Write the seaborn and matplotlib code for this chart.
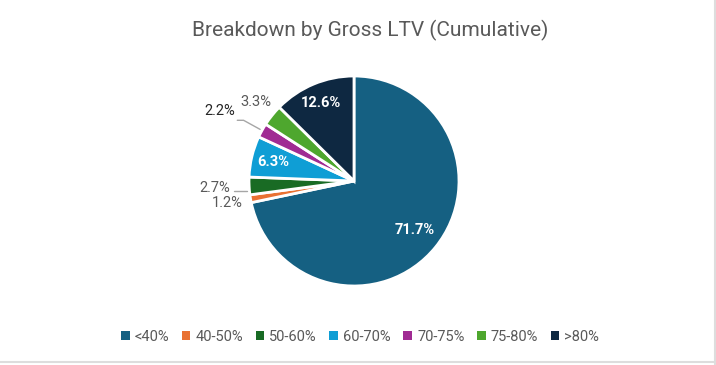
import matplotlib
matplotlib.use("Agg")
import matplotlib.pyplot as plt
import seaborn as sns
import numpy as np
from matplotlib.patches import Patch
from matplotlib.lines import Line2D

sns.set_style("white")
plt.rcParams['font.family'] = ['Roboto', 'DejaVu Sans']

# data
categories = ['<40%', '40-50%', '50-60%', '60-70%', '70-75%', '75-80%', '>80%']
shares = [71.7, 1.2, 2.7, 6.3, 2.2, 3.3, 12.6]
colors = sns.color_palette(['#156082', '#E97132', '#196B24', '#0F9ED5',
                            '#A02B93', '#4EA72E', '#0E2841'])

# label styling (distance from centre, inside/outside)
label_r = [0.74, 1.22, 1.33, 0.79, 1.46, 1.2, 0.81]
inside = [True, False, False, True, False, False, True]
leader = [False, False, True, False, True, False, False]

W, H = 716, 365
fig = plt.figure(figsize=(W / 100, H / 100), dpi=100)
cx, cy, R = 354, 181, 105
ax = fig.add_axes([(cx - R) / W, (H - cy - R) / H, 2 * R / W, 2 * R / H])

wedges, _ = ax.pie(shares, colors=colors, startangle=90, counterclock=False,
                   radius=1.0, wedgeprops=dict(edgecolor='white', linewidth=2))
ax.set_xlim(-1, 1)
ax.set_ylim(-1, 1)
ax.axis('off')

for w, val, r, ins, ld in zip(wedges, shares, label_r, inside, leader):
    ang = np.deg2rad((w.theta1 + w.theta2) / 2)
    x, y = r * np.cos(ang), r * np.sin(ang)
    if ins:
        ax.text(x, y, f"{val:.1f}%", ha='center', va='center', color='white',
                fontsize=10.5, fontweight='bold')
    else:
        col = '#262626' if ld and val < 2.5 else '#595959'
        ax.text(x, y - (0.04 if ld and val < 2.5 else 0), f"{val:.1f}%",
                ha='center', va='center', color=col, fontsize=10.5, clip_on=False)
    if ld:
        x0, y0 = 1.02 * np.cos(ang), 1.02 * np.sin(ang)
        if val < 2.5:
            x1, y1 = 1.2 * np.cos(ang), 1.2 * np.sin(ang)
            ax.plot([x0, x1, x1 - 0.06], [y0, y1, y1], color='#A6A6A6',
                    lw=1, clip_on=False)
        else:
            ax.plot([x0, x0 - 0.12], [y0 - 0.05, y0 - 0.05], color='#A6A6A6',
                    lw=1, clip_on=False)

fig.text(370 / W, 1 - 30 / H, 'Breakdown by Gross LTV (Cumulative)',
         ha='center', va='center', fontsize=15, color='#595959')

handles = [Patch(facecolor=c, edgecolor='none') for c in colors]
fig.legend(handles, categories, loc='center', bbox_to_anchor=(360 / W, 1 - 337 / H),
           ncol=7, frameon=False, fontsize=10.5, labelcolor='#595959',
           handlelength=0.6, handleheight=0.6, handletextpad=0.35,
           columnspacing=0.85)

# faint spreadsheet border
fig.add_artist(Line2D([0, 1], [3 / H, 3 / H], color='#DDDDDD', lw=1.5))
fig.add_artist(Line2D([1 - 1.5 / W, 1 - 1.5 / W], [0, 1], color='#DDDDDD', lw=1.5))

fig.savefig('out.png', dpi=100)
